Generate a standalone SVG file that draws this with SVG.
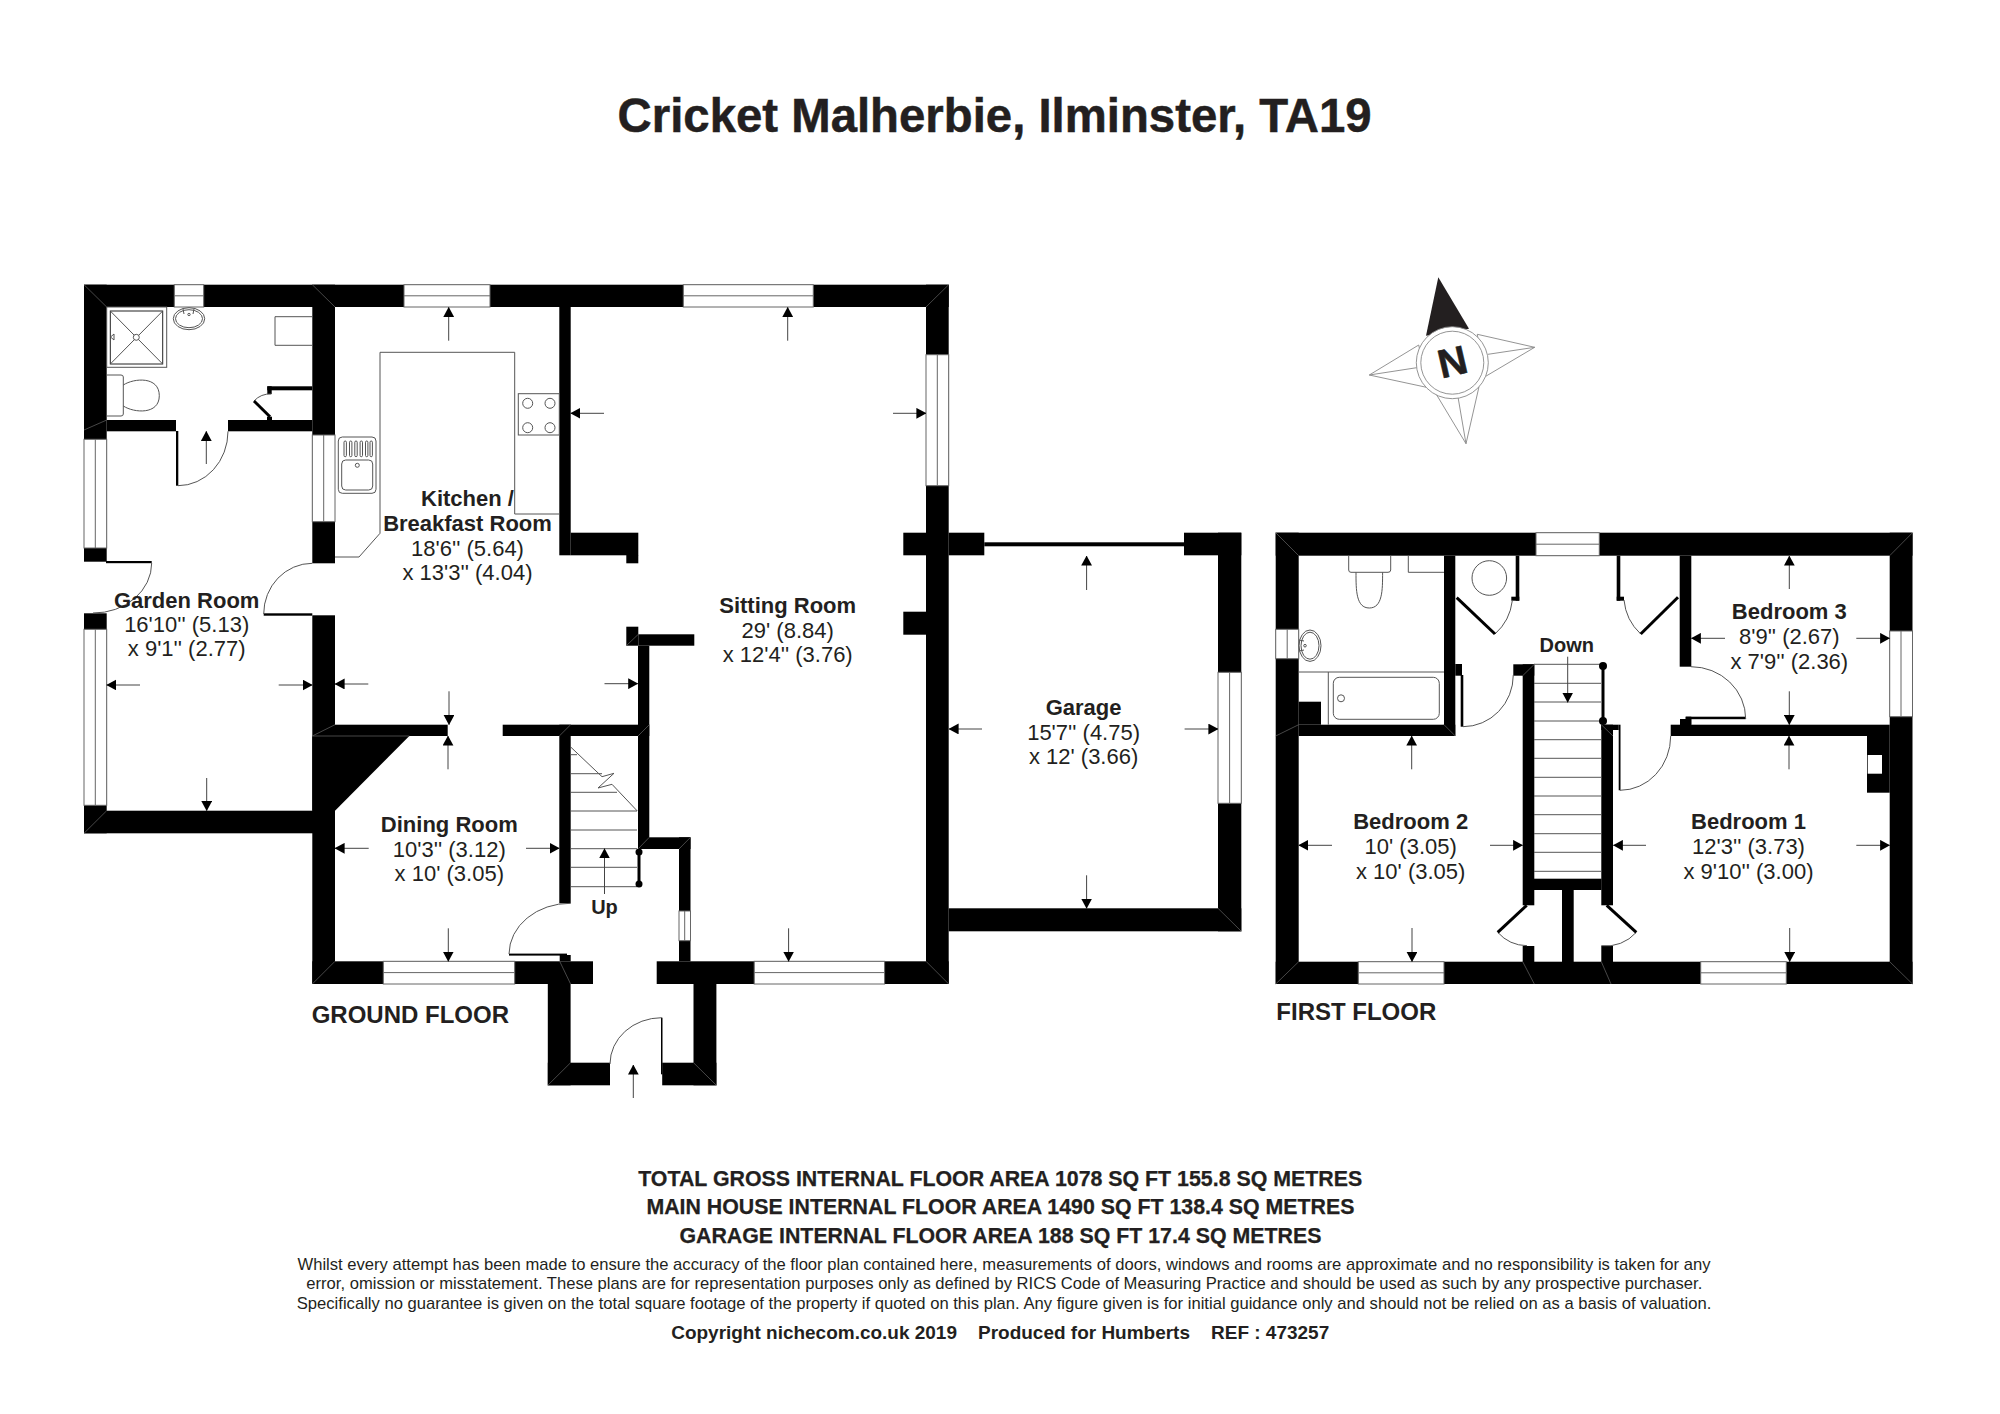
<svg xmlns="http://www.w3.org/2000/svg" width="2000" height="1414" viewBox="0 0 2000 1414">
<style>
text{font-family:"Liberation Sans",Arial,sans-serif;fill:#231f20;text-anchor:middle}
.r{font-size:22px}
.b{font-size:22px;font-weight:700}
.s{font-size:20px;font-weight:700}
.f{font-size:24px;font-weight:700;text-anchor:start}
.a{font-size:22px;font-weight:700;stroke:#231f20;stroke-width:.25}
.d{font-size:16.4px}
.c{font-size:19px;font-weight:700;white-space:pre}
.w rect,.w path{fill:#000}
.m line{stroke:#666;stroke-width:.7}
.win rect{fill:#fff;stroke:#666;stroke-width:1}
.win line{stroke:#666;stroke-width:1}
.l{fill:none;stroke:#555;stroke-width:1}
.k{fill:none;stroke:#000;stroke-width:3}
.ar line{stroke:#444;stroke-width:1;marker-end:url(#h)}
</style>
<defs>
<marker id="h" markerUnits="userSpaceOnUse" markerWidth="10" markerHeight="11" refX="9.6" refY="5.4" orient="auto"><path d="M0,0 L10,5.4 L0,10.8 z" fill="#000"/></marker>
</defs>
<rect width="2000" height="1414" fill="#fff"/>

<g id="title"><text x="994.6" y="132" font-size="47.5" font-weight="700" stroke="#231f20" stroke-width=".5" textLength="754" lengthAdjust="spacingAndGlyphs">Cricket Malherbie, Ilminster, TA19</text></g>

<g id="walls-ground" class="w">
<rect x="84" y="284.7" width="864.7" height="22.3"/>
<rect x="84" y="284.7" width="22.7" height="277"/>
<rect x="84" y="613.3" width="22.7" height="220"/>
<rect x="84" y="810.7" width="251" height="22.6"/>
<rect x="106.7" y="420" width="69.3" height="11.3"/>
<rect x="228" y="420" width="84.3" height="11.3"/>
<rect x="176" y="431" width="2.3" height="54.7"/>
<rect x="312.3" y="284.7" width="22.7" height="278.6"/>
<rect x="312.3" y="615.3" width="22.7" height="368.7"/>
<rect x="335" y="724.7" width="112.7" height="11.3"/>
<path d="M312.3,736 L409.3,736 L335,810.7 L312.3,810.7 z"/>
<rect x="502.7" y="724.7" width="146.6" height="11.3"/>
<rect x="559.3" y="724.7" width="11.4" height="178.6"/>
<rect x="559.3" y="307" width="11.4" height="248.3"/>
<rect x="570.7" y="532.7" width="67.6" height="22.6"/>
<rect x="626.3" y="555" width="12" height="8.3"/>
<rect x="626.3" y="626.7" width="12" height="19"/>
<rect x="638.3" y="634.3" width="56" height="11.4"/>
<rect x="638" y="645.7" width="11.3" height="203.3"/>
<rect x="638" y="837.3" width="52.5" height="11.7"/>
<rect x="679" y="837.3" width="11.5" height="124"/>
<rect x="312.3" y="961.3" width="280.7" height="22.7"/>
<rect x="656.7" y="961.3" width="292" height="22.7"/>
<rect x="547.8" y="984" width="22.8" height="101.3"/>
<rect x="559.7" y="955" width="11" height="6.3"/>
<rect x="547.8" y="1062.7" width="62.2" height="22.6"/>
<rect x="662.2" y="1062.7" width="54.2" height="22.6"/>
<rect x="693.5" y="984" width="22.9" height="101.3"/>
<rect x="926" y="284.7" width="22.7" height="699.3"/>
<rect x="903.3" y="532.7" width="22.7" height="22.6"/>
<rect x="903.3" y="611.7" width="22.7" height="23"/>
<rect x="948.7" y="532.7" width="35.6" height="22.6"/>
<rect x="984.3" y="542.3" width="201.7" height="4"/>
<rect x="1184" y="532.7" width="57.3" height="22.6"/>
<rect x="1218" y="532.7" width="23.3" height="398.6"/>
<rect x="948.7" y="908.3" width="292.6" height="23"/>
<rect x="106" y="561" width="45.7" height="2.2"/>
<rect x="263.7" y="613.3" width="48.6" height="2.4"/>
<rect x="509" y="953.6" width="58" height="2"/>
<rect x="661" y="1017.7" width="1.5" height="56.6"/>
<rect x="267.3" y="386.3" width="45" height="4"/>
<rect x="267.3" y="386.3" width="4.4" height="7.7"/>
<rect x="267" y="416.7" width="5" height="3.3"/>
</g>

<g id="walls-first" class="w">
<rect x="1275.7" y="532.7" width="636.8" height="23"/>
<rect x="1275.7" y="532.7" width="23" height="451.3"/>
<rect x="1889.7" y="532.7" width="22.8" height="451.3"/>
<rect x="1275.7" y="961.7" width="636.8" height="22.3"/>
<rect x="1444" y="555.7" width="11.3" height="180.3"/>
<rect x="1298.7" y="724.7" width="156.6" height="11.3"/>
<rect x="1298.7" y="701.7" width="22.3" height="23"/>
<rect x="1455.3" y="664" width="6.7" height="11.7"/>
<rect x="1460.7" y="675" width="2.6" height="51.7"/>
<rect x="1513.3" y="664.3" width="21" height="11.4"/>
<rect x="1522.7" y="664.3" width="11.6" height="241"/>
<rect x="1601.3" y="724.7" width="11.7" height="180.6"/>
<rect x="1601.3" y="724.7" width="17.4" height="5.3"/>
<rect x="1618.7" y="724.7" width="1.8" height="65.6"/>
<rect x="1534" y="878.7" width="67.5" height="11.3"/>
<rect x="1562" y="890" width="11.7" height="72"/>
<rect x="1522.7" y="946" width="11.6" height="16"/>
<rect x="1601.3" y="946" width="11.7" height="16"/>
<rect x="1515.7" y="555.7" width="3.6" height="45"/>
<rect x="1511.3" y="596.7" width="8" height="4"/>
<rect x="1616.7" y="555.7" width="3.6" height="45"/>
<rect x="1616.7" y="596.7" width="7.3" height="4"/>
<rect x="1679.7" y="555.7" width="11.6" height="111"/>
<rect x="1670.7" y="724.7" width="219" height="11.3"/>
<rect x="1685.7" y="716.7" width="5.6" height="8"/>
<rect x="1680" y="719" width="11.3" height="6"/>
<rect x="1685.7" y="716.7" width="60" height="2.5"/>
<rect x="1867" y="736" width="22.7" height="56.7"/>
<rect x="1867.7" y="755" width="14.3" height="18.7" style="fill:#fff"/>
</g>

<g id="wall-mitres" class="m">
<line x1="84" y1="284.7" x2="106.7" y2="307"/>
<line x1="312.3" y1="284.7" x2="335" y2="307"/>
<line x1="926" y1="307" x2="948.7" y2="284.7"/>
<line x1="84" y1="430" x2="106.7" y2="420"/>
<line x1="84" y1="833.3" x2="106.7" y2="810.7"/>
<line x1="312.3" y1="984" x2="335" y2="961.3"/>
<line x1="312.3" y1="736" x2="335" y2="724.7"/>
<line x1="312.3" y1="736" x2="409.3" y2="736"/>
<line x1="559.3" y1="736" x2="570.7" y2="724.7"/>
<line x1="638" y1="736" x2="649.3" y2="724.7"/>
<line x1="638" y1="849" x2="649.3" y2="837.3"/>
<line x1="679" y1="849" x2="690.5" y2="837.3"/>
<line x1="926" y1="961.3" x2="948.7" y2="984"/>
<line x1="1218" y1="908.3" x2="1241.3" y2="931.3"/>
<line x1="547.8" y1="1085.3" x2="570.6" y2="1062.7"/>
<line x1="693.5" y1="1062.7" x2="716.4" y2="1085.3"/>
<line x1="559.7" y1="961.3" x2="570.6" y2="984"/>
<line x1="626.3" y1="645.7" x2="638.3" y2="634.3"/>
<line x1="1275.7" y1="532.7" x2="1298.7" y2="555.7"/>
<line x1="1889.7" y1="555.7" x2="1912.5" y2="532.7"/>
<line x1="1275.7" y1="984" x2="1298.7" y2="961.7"/>
<line x1="1889.7" y1="961.7" x2="1912.5" y2="984"/>
<line x1="1275.7" y1="736" x2="1298.7" y2="724.7"/>
<line x1="1444" y1="724.7" x2="1455.3" y2="736"/>
<line x1="1522.7" y1="961.7" x2="1534.3" y2="984"/>
<line x1="1601.3" y1="961.7" x2="1611" y2="984"/>
<line x1="1601.3" y1="724.7" x2="1613" y2="736"/>
<line x1="1522.7" y1="675.7" x2="1534.3" y2="664.3"/>
</g>

<g id="windows" class="win">
<rect x="174.3" y="284.7" width="29.4" height="22.3"/><line x1="174.3" y1="295.8" x2="203.7" y2="295.8"/>
<rect x="404" y="284.7" width="86" height="22.3"/><line x1="404" y1="295.8" x2="490" y2="295.8"/>
<rect x="683.3" y="284.7" width="130" height="22.3"/><line x1="683.3" y1="295.8" x2="813.3" y2="295.8"/>
<rect x="383.3" y="961.3" width="131.4" height="22.7"/><line x1="383.3" y1="972.6" x2="514.7" y2="972.6"/>
<rect x="754.2" y="961.3" width="130.4" height="22.7"/><line x1="754.2" y1="972.6" x2="884.6" y2="972.6"/>
<rect x="1536" y="532.7" width="63.3" height="23"/><line x1="1536" y1="544.2" x2="1599.3" y2="544.2"/>
<rect x="1358.3" y="961.7" width="85.7" height="22.3"/><line x1="1358.3" y1="972.8" x2="1444" y2="972.8"/>
<rect x="1700.7" y="961.7" width="85.6" height="22.3"/><line x1="1700.7" y1="972.8" x2="1786.3" y2="972.8"/>
<rect x="84" y="439.3" width="22.7" height="108.7"/><line x1="95.3" y1="439.3" x2="95.3" y2="548"/>
<rect x="84" y="629.3" width="22.7" height="176"/><line x1="95.3" y1="629.3" x2="95.3" y2="805.3"/>
<rect x="312.3" y="435" width="22.7" height="86.7"/><line x1="323.7" y1="435" x2="323.7" y2="521.7"/>
<rect x="926" y="354.7" width="22.7" height="131"/><line x1="937.3" y1="354.7" x2="937.3" y2="485.7"/>
<rect x="1218" y="672.3" width="23.3" height="131"/><line x1="1229.6" y1="672.3" x2="1229.6" y2="803.3"/>
<rect x="679" y="911" width="11.5" height="29.7"/><line x1="684.7" y1="911" x2="684.7" y2="940.7"/>
<rect x="1275.7" y="629.3" width="23" height="29.4"/><line x1="1287.2" y1="629.3" x2="1287.2" y2="658.7"/>
<rect x="1889.7" y="631" width="22.8" height="85.7"/><line x1="1901" y1="631" x2="1901" y2="716.7"/>
</g>

<g id="doors">
<path class="l" d="M178,485.7 A50,54.4 0 0 0 228,431.3"/>
<path class="l" d="M151.7,563 A58,50 0 0 1 93,613"/>
<path class="l" d="M312.3,563.3 A48.6,50.7 0 0 0 263.7,614"/>
<path class="l" d="M570.6,903.3 A61,51 0 0 0 509,954"/>
<path class="l" d="M661.7,1017.7 A51.7,46.3 0 0 0 610,1064"/>
<path class="l" d="M1463,726.7 A50.3,51.7 0 0 0 1513.3,675"/>
<path class="l" d="M1620,790.3 A50.7,54.3 0 0 0 1670.7,736"/>
<path class="l" d="M1691,666.7 A54.7,52.3 0 0 1 1745.7,719"/>
<path class="l" d="M1495,634 A53,53 0 0 0 1512.3,600.7"/>
<path class="l" d="M1640.7,634 A53,53 0 0 1 1624,600"/>
<path class="l" d="M1497.7,932.3 A40,40 0 0 0 1527,945.7"/>
<path class="l" d="M1636.3,932.3 A40,40 0 0 1 1601.3,945.7"/>
<path class="l" d="M254,401 A22,22 0 0 1 271.3,394"/>
<line class="k" x1="254" y1="401" x2="270" y2="416.7"/>
<line class="k" x1="1456.7" y1="597.7" x2="1495" y2="634"/>
<line class="k" x1="1640.7" y1="634" x2="1678" y2="597.3"/>
<line class="k" x1="1526.7" y1="905.3" x2="1497.7" y2="932.3"/>
<line class="k" x1="1606.7" y1="905.3" x2="1636.3" y2="932.3"/>
</g>

<g id="stairs-ground">
<path class="l" d="M571,754.7H577 M571,773.7H602 M571,792.3H617 M571,811H637 M571,830H637 M571,848.7H637 M571,867.3H637 M571,886.7H637"/>
<path class="l" d="M571,747.3 L602,776.7 L614,773.3 L598,788 L612,784.3 L637.3,811"/>
<line class="k" x1="639" y1="852" x2="639" y2="884"/>
<circle cx="639" cy="852" r="3.5"/><circle cx="639" cy="884" r="3.5"/>
</g>

<g id="stairs-first">
<path class="l" d="M1534,664.3H1603 M1534,683.3H1601 M1534,702H1601 M1534,721H1601 M1534,739.7H1601 M1534,758.3H1601 M1534,777.3H1601 M1534,796H1601 M1534,814.7H1601 M1534,833.7H1601 M1534,852.3H1601 M1534,871.3H1601"/>
<line class="k" x1="1603" y1="666" x2="1603" y2="721"/>
<circle cx="1603" cy="666" r="4"/><circle cx="1603" cy="721" r="4"/>
</g>

<g id="fittings-ground">
<path class="l" d="M335,557 H359 L380,533.3 V352.3 H514.7 V514 H559.3"/>
<rect class="l" x="518.3" y="393.7" width="41" height="41.3"/>
<circle class="l" cx="527.7" cy="403.3" r="5"/><circle class="l" cx="550" cy="403.3" r="5"/>
<circle class="l" cx="527.7" cy="427.7" r="5"/><circle class="l" cx="550" cy="427.7" r="5"/>
<rect class="l" x="338.3" y="437" width="37.7" height="56.3" rx="4"/>
<rect class="l" x="341.7" y="460" width="31" height="30" rx="4"/>
<g class="l"><rect x="344" y="441" width="2.4" height="15.7" rx="1.2"/><rect x="349.5" y="441" width="2.4" height="15.7" rx="1.2"/><rect x="354.8" y="441" width="2.4" height="15.7" rx="1.2"/><rect x="360.1" y="441" width="2.4" height="15.7" rx="1.2"/><rect x="365.5" y="441" width="2.4" height="15.7" rx="1.2"/><rect x="370" y="441" width="2.4" height="15.7" rx="1.2"/></g>
<circle class="l" cx="357.3" cy="465.3" r="2"/>
<rect class="l" x="106.7" y="307" width="60" height="60.3"/>
<rect class="l" x="110.3" y="311" width="52.4" height="53" style="stroke:#222"/>
<path class="l" d="M110.3,311 L162.7,364 M162.7,311 L110.3,364"/>
<circle cx="136.3" cy="337.3" r="3" fill="#fff" stroke="#555"/>
<path class="l" d="M114,334 L110.5,337 L114,340 z"/>
<ellipse class="l" cx="189" cy="318.7" rx="15.7" ry="11"/>
<ellipse class="l" cx="189" cy="318.7" rx="13.5" ry="9"/>
<circle class="l" cx="189" cy="314.5" r="1.2"/>
<path class="l" d="M183,309 l1,5 M194,309 l-1,5"/>
<path class="l" d="M106.7,375 H121 Q123.3,375 123.3,377 V414 Q123.3,416 121,416 H106.7"/>
<path class="l" d="M123.3,385 C134,378 159.3,376 159.3,395.7 C159.3,415 134,413 123.3,406"/>
<path class="l" d="M312.3,316.7 H275 V345.3 H312.3"/>
</g>

<g id="fittings-first">
<path class="l" d="M1348.7,555.7 V570 Q1348.7,572.3 1351,572.3 H1388 Q1390.7,572.3 1390.7,570 V555.7"/>
<path class="l" d="M1356,572.3 C1356,590 1356,608 1369.3,608 C1382.6,608 1382.6,590 1382.6,572.3"/>
<path class="l" d="M1408.3,555.7 V572.3 H1444"/>
<circle class="l" cx="1489.3" cy="578" r="17.3"/>
<ellipse class="l" cx="1310" cy="645.7" rx="11" ry="15.7"/>
<ellipse class="l" cx="1310" cy="645.7" rx="9" ry="13.5"/>
<circle class="l" cx="1305" cy="645.7" r="1.3"/>
<path class="l" d="M1299,640 l5,1 M1299,651 l5,-1"/>
<path class="l" d="M1298.7,672 H1444 M1328.3,672 V724.7"/>
<rect class="l" x="1333.3" y="677.3" width="106" height="42" rx="6"/>
<circle class="l" cx="1341" cy="698.3" r="3.5"/>
</g>

<g id="dimension-arrows" class="ar">
<line x1="448.7" y1="340.7" x2="448.7" y2="307.3"/>
<line x1="787.7" y1="340.7" x2="787.7" y2="307.3"/>
<line x1="604" y1="413.3" x2="570.7" y2="413.3"/>
<line x1="893" y1="413.3" x2="926" y2="413.3"/>
<line x1="788.6" y1="928.3" x2="788.6" y2="961.3"/>
<line x1="140" y1="685" x2="106.7" y2="685"/>
<line x1="278.7" y1="685" x2="312.3" y2="685"/>
<line x1="206.7" y1="778" x2="206.7" y2="810.7"/>
<line x1="206.3" y1="464" x2="206.3" y2="431.3"/>
<line x1="368.3" y1="684" x2="335" y2="684"/>
<line x1="604.5" y1="683.7" x2="637.8" y2="683.7"/>
<line x1="449" y1="691.3" x2="449" y2="724.7"/>
<line x1="448" y1="769.3" x2="448" y2="736"/>
<line x1="368.7" y1="848.3" x2="335" y2="848.3"/>
<line x1="526" y1="848.3" x2="559.3" y2="848.3"/>
<line x1="448.3" y1="928.3" x2="448.3" y2="961.3"/>
<line x1="604.5" y1="894" x2="604.5" y2="848.7"/>
<line x1="633.3" y1="1098" x2="633.3" y2="1065"/>
<line x1="1086.6" y1="590" x2="1086.6" y2="556"/>
<line x1="1086.6" y1="875.3" x2="1086.6" y2="908.3"/>
<line x1="982" y1="729" x2="949" y2="729"/>
<line x1="1184.6" y1="729" x2="1218" y2="729"/>
<line x1="1567.7" y1="656.7" x2="1567.7" y2="702.3"/>
<line x1="1411.7" y1="769.3" x2="1411.7" y2="736"/>
<line x1="1332" y1="845.3" x2="1298.7" y2="845.3"/>
<line x1="1490" y1="845.3" x2="1522.7" y2="845.3"/>
<line x1="1412" y1="928" x2="1412" y2="961.7"/>
<line x1="1646" y1="845.3" x2="1613.3" y2="845.3"/>
<line x1="1856.3" y1="845.3" x2="1889.7" y2="845.3"/>
<line x1="1789.7" y1="928" x2="1789.7" y2="961.7"/>
<line x1="1789" y1="769.3" x2="1789" y2="736"/>
<line x1="1789.3" y1="589" x2="1789.3" y2="556"/>
<line x1="1725" y1="638.3" x2="1691.3" y2="638.3"/>
<line x1="1856.3" y1="638.3" x2="1889.7" y2="638.3"/>
<line x1="1789.3" y1="691.3" x2="1789.3" y2="724.7"/>
</g>

<g id="compass">
<polygon points="1438.3,277.3 1426,335.7 1469,328.7" fill="#231f20"/>
<g fill="#fff" stroke="#888" stroke-width=".9">
<polygon points="1534.7,347.3 1477.3,334.3 1484,377.3"/>
<line x1="1534.7" y1="347.3" x2="1488" y2="354.3"/>
<polygon points="1369.3,375 1418.7,345 1428.3,387.7"/>
<line x1="1369.3" y1="375" x2="1416.7" y2="367.7"/>
<polygon points="1466,443.7 1435.7,393.3 1479,386.7"/>
<line x1="1466" y1="443.7" x2="1458" y2="397"/>
<circle cx="1452.3" cy="362.7" r="36"/>
<circle cx="1452.3" cy="362.7" r="31.5"/>
</g>
<text transform="translate(1452.3 361.5) rotate(-13)" y="14" font-size="40" font-weight="700" stroke="#231f20" stroke-width=".6">N</text>
</g>

<g id="room-garden"><text class="b" x="186.7" y="607.5">Garden Room</text><text class="r" x="186.7" y="632">16'10'' (5.13)</text><text class="r" x="186.7" y="656.3">x 9'1'' (2.77)</text></g>
<g id="room-kitchen"><text class="b" x="467.5" y="506">Kitchen /</text><text class="b" x="467.5" y="530.7">Breakfast Room</text><text class="r" x="467.5" y="555.5">18'6'' (5.64)</text><text class="r" x="467.5" y="580">x 13'3'' (4.04)</text></g>
<g id="room-sitting"><text class="b" x="787.7" y="613">Sitting Room</text><text class="r" x="787.7" y="637.7">29' (8.84)</text><text class="r" x="787.7" y="661.7">x 12'4'' (3.76)</text></g>
<g id="room-dining"><text class="b" x="449.3" y="832.3">Dining Room</text><text class="r" x="449.3" y="857">10'3'' (3.12)</text><text class="r" x="449.3" y="881">x 10' (3.05)</text></g>
<g id="room-garage"><text class="b" x="1083.6" y="715">Garage</text><text class="r" x="1083.6" y="739.5">15'7'' (4.75)</text><text class="r" x="1083.6" y="763.7">x 12' (3.66)</text></g>
<g id="room-bed1"><text class="b" x="1748.5" y="829.3">Bedroom 1</text><text class="r" x="1748.5" y="854">12'3'' (3.73)</text><text class="r" x="1748.5" y="878.8">x 9'10'' (3.00)</text></g>
<g id="room-bed2"><text class="b" x="1410.7" y="829.3">Bedroom 2</text><text class="r" x="1410.7" y="854">10' (3.05)</text><text class="r" x="1410.7" y="878.8">x 10' (3.05)</text></g>
<g id="room-bed3"><text class="b" x="1789.3" y="619">Bedroom 3</text><text class="r" x="1789.3" y="644">8'9'' (2.67)</text><text class="r" x="1789.3" y="668.8">x 7'9'' (2.36)</text></g>
<g id="stair-labels"><text class="s" x="604.5" y="914">Up</text><text class="s" x="1566.7" y="651.7">Down</text></g>
<g id="floor-labels"><text class="f" x="311.7" y="1023.3">GROUND FLOOR</text><text class="f" x="1276.3" y="1020.3">FIRST FLOOR</text></g>

<g id="footer">
<text class="a" x="1000.2" y="1186" textLength="724" lengthAdjust="spacingAndGlyphs">TOTAL GROSS INTERNAL FLOOR AREA 1078 SQ FT 155.8 SQ METRES</text>
<text class="a" x="1000.4" y="1214.3" textLength="708" lengthAdjust="spacingAndGlyphs">MAIN HOUSE INTERNAL FLOOR AREA 1490 SQ FT 138.4 SQ METRES</text>
<text class="a" x="1000.4" y="1243" textLength="642" lengthAdjust="spacingAndGlyphs">GARAGE INTERNAL FLOOR AREA 188 SQ FT 17.4 SQ METRES</text>
<text class="d" x="1004" y="1270.3" textLength="1413" lengthAdjust="spacingAndGlyphs">Whilst every attempt has been made to ensure the accuracy of the floor plan contained here, measurements of doors, windows and rooms are approximate and no responsibility is taken for any</text>
<text class="d" x="1004.3" y="1289.3" textLength="1396" lengthAdjust="spacingAndGlyphs">error, omission or misstatement. These plans are for representation purposes only as defined by RICS Code of Measuring Practice and should be used as such by any prospective purchaser.</text>
<text class="d" x="1004" y="1308.7" textLength="1414.5" lengthAdjust="spacingAndGlyphs">Specifically no guarantee is given on the total square footage of the property if quoted on this plan. Any figure given is for initial guidance only and should not be relied on as a basis of valuation.</text>
<text class="c" x="1000.2" y="1339.3" textLength="658" lengthAdjust="spacingAndGlyphs">Copyright nichecom.co.uk 2019    Produced for Humberts    REF : 473257</text>
</g>
</svg>
